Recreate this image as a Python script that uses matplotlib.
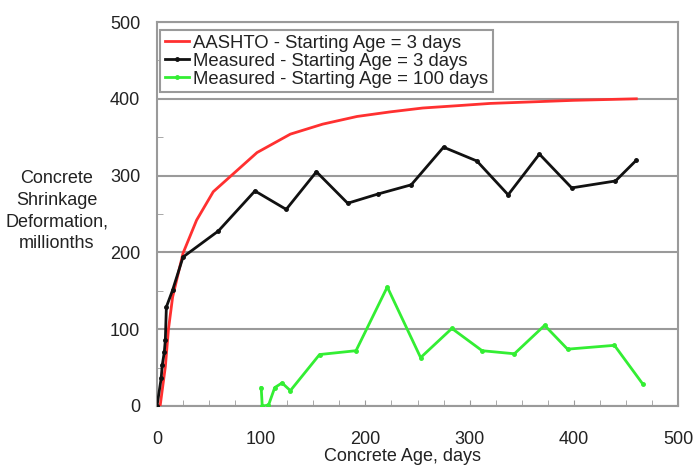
import matplotlib
matplotlib.use('Agg')
import matplotlib.pyplot as plt
import matplotlib.ticker as mtick

plt.rcParams['font.family'] = ['Liberation Sans', 'DejaVu Sans']

# AASHTO prediction, starting age 3 days
aashto_days = [3, 8, 11, 15, 25, 38, 54, 68, 96, 128, 159, 192, 224, 255, 288, 320, 360, 400, 460]
aashto_vals = [0, 51, 100, 142, 199, 242, 279, 296, 330, 354, 367, 377, 383, 388, 391, 394, 396, 398, 400]

# measured, starting age 3 days
meas3_days = [0, 4, 5, 7, 8, 9, 15, 25, 59, 94, 124, 153, 183, 212, 244, 275, 307, 337, 367, 398, 440, 460]
meas3_vals = [0, 36, 53, 70, 86, 129, 151, 194, 228, 280, 256, 305, 264, 276, 288, 337, 319, 275, 328, 284, 293, 320]

# measured, starting age 100 days
meas100_days = [100, 101, 107, 113, 120, 128, 156, 191, 221, 253, 283, 312, 343, 372, 394, 439, 466]
meas100_vals = [24, 0, 1, 24, 30, 20, 67, 72, 155, 63, 101, 72, 68, 105, 74, 79, 29]

xticks = [0, 100, 200, 300, 400, 500]
yticks = [0, 100, 200, 300, 400, 500]

txtcol = '#222222'
gridcol = '#9a9a9a'

fig = plt.figure(figsize=(6.93, 4.66), dpi=100)
ax = fig.add_axes([157/693., 60/466., 521/693., 384/466.])

ax.plot(aashto_days, aashto_vals, color='#ff3030', lw=2, zorder=3,
        label='AASHTO - Starting Age = 3 days')
ax.plot(meas3_days, meas3_vals, color='#111111', lw=2, marker='o', ms=2.5, zorder=4,
        label='Measured - Starting Age = 3 days')
ax.plot(meas100_days, meas100_vals, color='#33ee33', lw=2, marker='o', ms=2.5, zorder=4,
        label='Measured - Starting Age = 100 days')

ax.set_xlim(0, 500)
ax.set_ylim(0, 500)
ax.set_xticks(xticks)
ax.set_yticks(yticks)
ax.xaxis.set_minor_locator(mtick.MultipleLocator(25))
ax.yaxis.set_minor_locator(mtick.MultipleLocator(50))

for s in ax.spines.values():
    s.set_color(gridcol)
    s.set_linewidth(1.5)

ax.grid(True, axis='y', color=gridcol, lw=1.5, zorder=0)

ax.tick_params(axis='x', which='both', direction='in', length=4, color=gridcol,
               labelsize=13, labelcolor=txtcol, pad=18)
ax.tick_params(axis='y', which='both', direction='in', length=4, color=gridcol,
               labelsize=13, labelcolor=txtcol, pad=12)
ax.tick_params(axis='y', which='major', length=0)

ax.set_xlabel('Concrete Age, days', fontsize=13, color=txtcol)
ax.xaxis.set_label_coords((403 - 157) / 521., -0.11)

fig.text(57/693., 1 - 211/466., 'Concrete\nShrinkage\nDeformation,\nmillionths',
         ha='center', va='center', fontsize=13, color=txtcol, linespacing=1.35)

leg = ax.legend(loc='upper left', bbox_to_anchor=(0.006, 0.979), fontsize=13.3,
                frameon=True, fancybox=False, framealpha=1, borderpad=0.25,
                labelspacing=0.05, handlelength=1.3, handletextpad=0.25,
                borderaxespad=0)
leg.get_frame().set_edgecolor(gridcol)
leg.get_frame().set_linewidth(1.5)
for t in leg.get_texts():
    t.set_color(txtcol)

fig.savefig('out.png', dpi=100)
